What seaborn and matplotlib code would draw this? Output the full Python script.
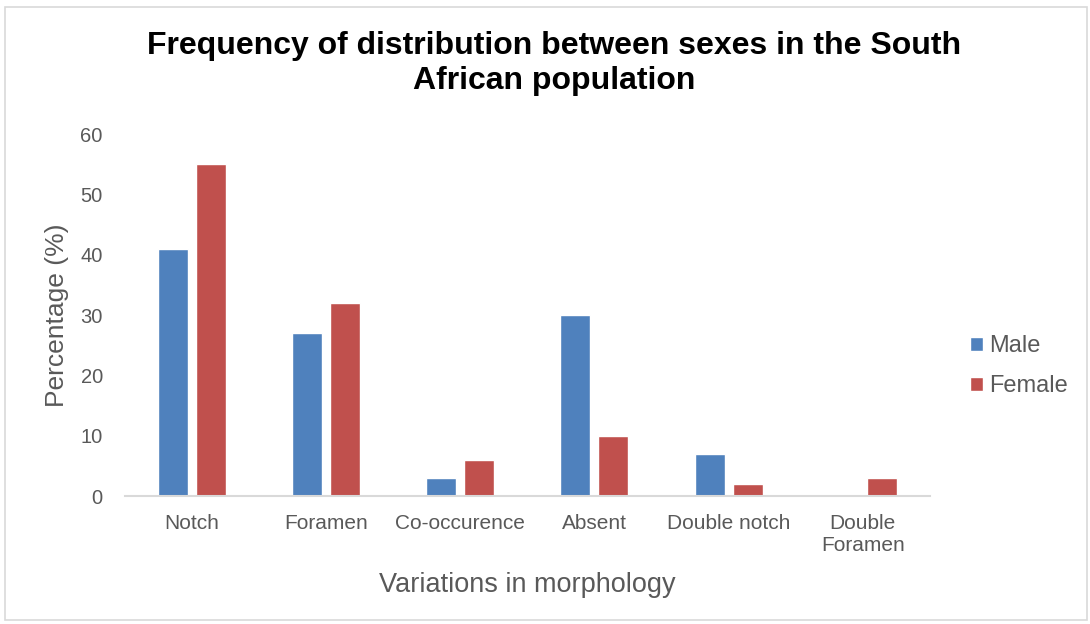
import matplotlib
matplotlib.use("Agg")
import matplotlib.pyplot as plt
import seaborn as sns
import pandas as pd
from matplotlib.patches import Rectangle

categories = ["Notch", "Foramen", "Co-occurence", "Absent", "Double notch", "Double\nForamen"]
male = [41, 27, 3, 30, 7, 0]
female = [55, 32, 6, 10, 2, 3]
series = ["Male", "Female"]
yticks = [0, 10, 20, 30, 40, 50, 60]

df = pd.DataFrame({
    "Variation": categories * 2,
    "Percentage": male + female,
    "Sex": [series[0]] * len(categories) + [series[1]] * len(categories),
})

sns.set_theme(style="white")
plt.rcParams["font.family"] = ["Liberation Sans", "DejaVu Sans"]

text_grey = "#595959"
fig = plt.figure(figsize=(10.9, 6.24), dpi=100)
ax = fig.add_axes([0.1147, 0.205, 0.7383, 0.58])

sns.barplot(data=df, x="Variation", y="Percentage", hue="Sex",
            palette={"Male": "#4F81BD", "Female": "#C0504D"}, saturation=1,
            width=0.567, gap=0.21, ax=ax, legend=True)

ax.set_ylim(0, 60)
ax.set_xlim(-0.5, len(categories) - 0.5)
ax.set_yticks(yticks)
ax.tick_params(axis="both", length=0, labelcolor=text_grey)
ax.tick_params(axis="y", pad=16, labelsize=14.5)
ax.tick_params(axis="x", pad=13, labelsize=15)
for s in ["top", "right", "left"]:
    ax.spines[s].set_visible(False)
ax.spines["bottom"].set_color("#D9D9D9")
ax.spines["bottom"].set_linewidth(1.5)

ax.set_xlabel("Variations in morphology", fontsize=19.5, color=text_grey, labelpad=12)
ax.set_ylabel("Percentage (%)", fontsize=19, color=text_grey, labelpad=8)

fig.suptitle("Frequency of distribution between sexes in the South\nAfrican population",
             x=0.508, y=0.95, fontsize=23, fontweight="bold", color="black",
             linespacing=1.22)

leg = ax.legend(loc="center left", bbox_to_anchor=(0.87, 0.413),
                bbox_transform=fig.transFigure, frameon=False,
                fontsize=17, handlelength=0.55, handleheight=0.55,
                handletextpad=0.3, labelspacing=0.75)
for t in leg.get_texts():
    t.set_color(text_grey)

# thin frame around the whole chart
fig.patches.append(Rectangle((0.005, 0.006), 0.992, 0.982, transform=fig.transFigure,
                             fill=False, edgecolor="#D9D9D9", linewidth=1.2))

fig.savefig("out.png", dpi=100)
